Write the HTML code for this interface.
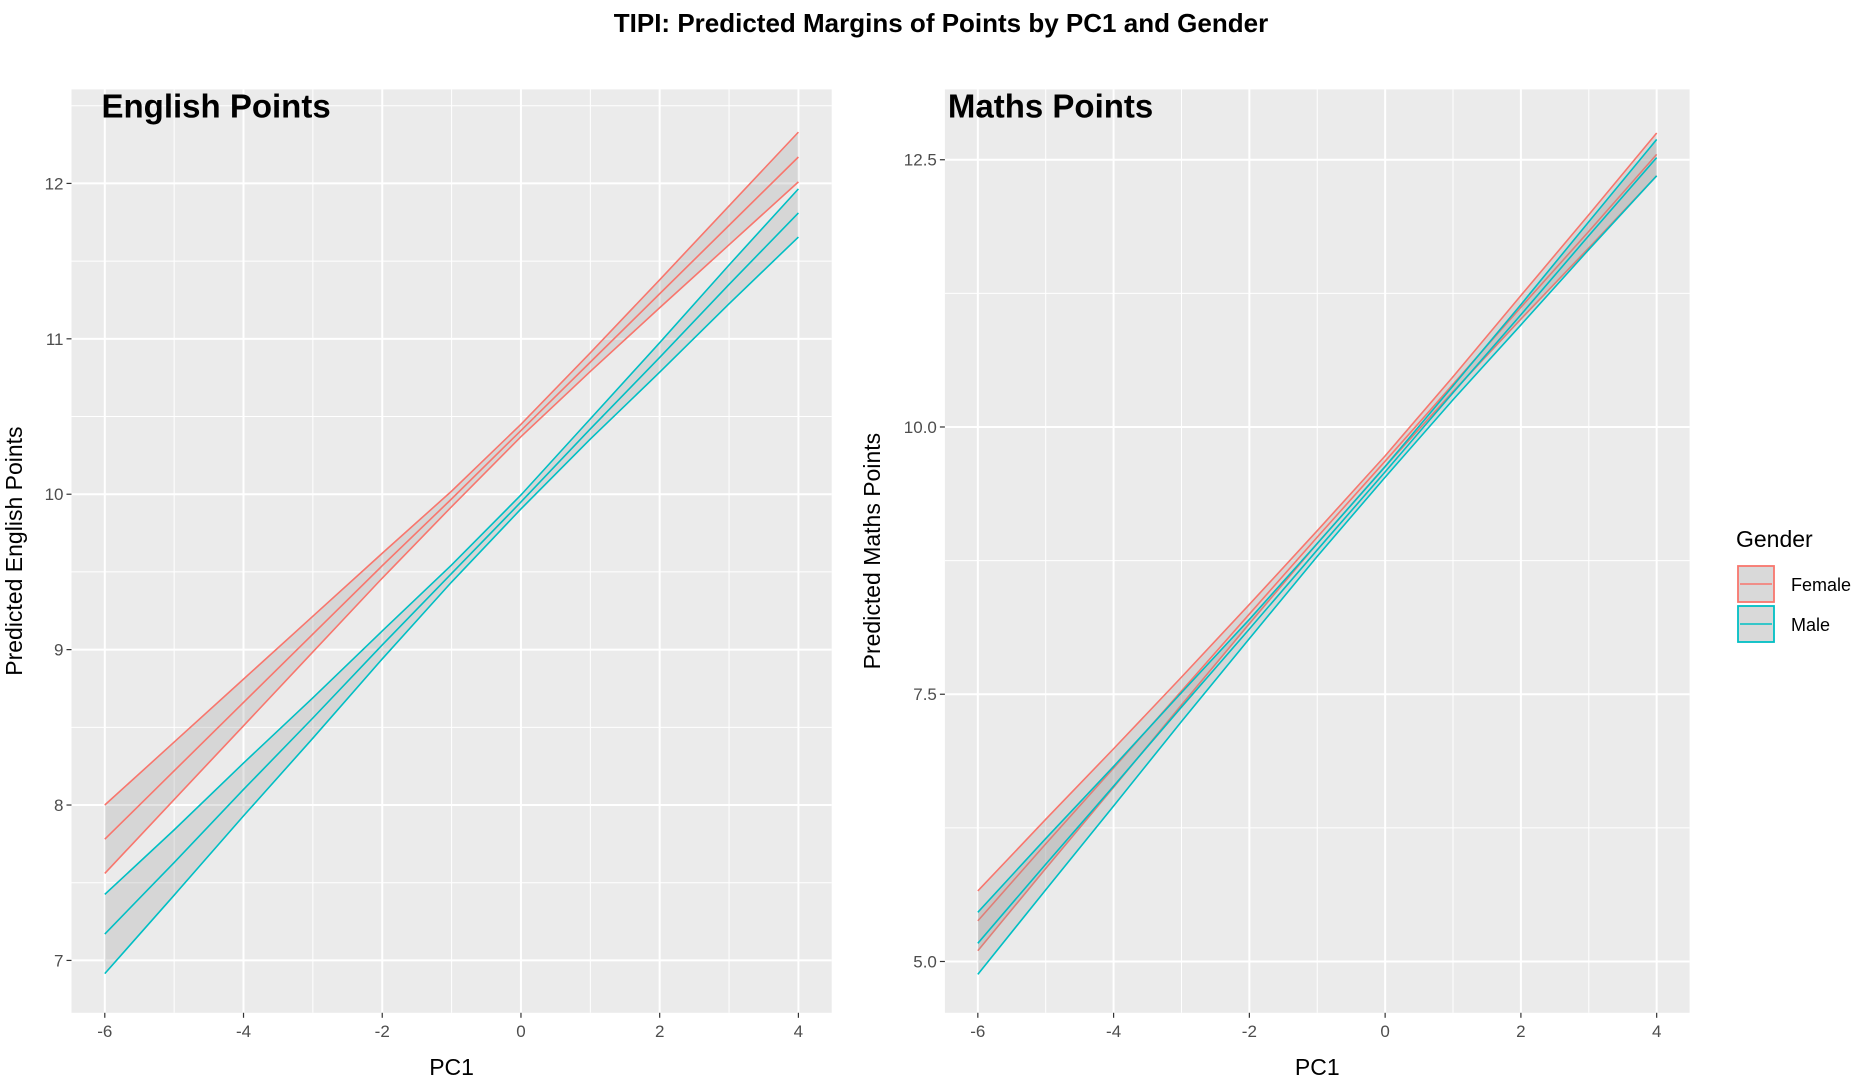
<!DOCTYPE html>
<html><head><meta charset="utf-8"><style>
body{margin:0;background:#fff;}
svg{display:block;font-family:"Liberation Sans",Arial,sans-serif;}
</style></head><body>
<svg id="c" width="1867" height="1085">
<text x="941" y="32" text-anchor="middle" font-size="26" font-weight="bold">TIPI: Predicted Margins of Points by PC1 and Gender</text>
</svg>
<script>
const xVals=[-6,-5,-4,-3,-2,-1,0,1,2,3,4];
const engFemaleUpper=[8.00,8.405,8.81,9.215,9.62,10.02,10.45,10.91,11.38,11.855,12.33];
const engFemaleMean=[7.78,8.22,8.66,9.10,9.54,9.97,10.41,10.85,11.29,11.73,12.17];
const engFemaleLower=[7.56,8.035,8.51,8.985,9.46,9.92,10.37,10.79,11.20,11.605,12.01];
const engMaleUpper=[7.425,7.84,8.27,8.69,9.12,9.545,9.995,10.485,10.975,11.475,11.965];
const engMaleMean=[7.17,7.63,8.10,8.56,9.03,9.49,9.95,10.42,10.88,11.35,11.81];
const engMaleLower=[6.915,7.42,7.93,8.43,8.94,9.435,9.905,10.355,10.785,11.225,11.655];
const mathFemaleUpper=[5.66,6.33,6.99,7.66,8.34,9.03,9.73,10.47,11.23,11.985,12.75];
const mathFemaleMean=[5.38,6.10,6.81,7.53,8.25,8.97,9.68,10.40,11.12,11.83,12.55];
const mathFemaleLower=[5.10,5.87,6.63,7.40,8.16,8.91,9.63,10.33,11.01,11.675,12.35];
const mathMaleUpper=[5.46,6.15,6.825,7.515,8.20,8.91,9.63,10.385,11.145,11.92,12.69];
const mathMaleMean=[5.17,5.91,6.64,7.38,8.11,8.85,9.58,10.32,11.05,11.79,12.52];
const mathMaleLower=[4.88,5.67,6.455,7.245,8.02,8.79,9.53,10.255,10.955,11.66,12.35];
const xTicks=[-6,-4,-2,0,2,4];
const engYTicks=[7,8,9,10,11,12];
const mathYTicks=[5.0,7.5,10.0,12.5];
const NS="http://www.w3.org/2000/svg";
const svg=document.getElementById('c');
function el(t,a,p){const e=document.createElementNS(NS,t);for(const k in a)e.setAttribute(k,a[k]);(p||svg).appendChild(e);return e;}
function panel(o){
  const g=el('g',{});
  
  
  const X=v=>o.x0+(v-o.xmin)/(o.xmax-o.xmin)*(o.x1-o.x0);
  const Y=v=>o.y1-(v-o.ymin)/(o.ymax-o.ymin)*(o.y1-o.y0);
  el('rect',{x:o.x0,y:o.y0,width:o.x1-o.x0,height:o.y1-o.y0,fill:'#ebebeb'},g);
  for(let i=0;i<xTicks.length-1;i++){const v=(xTicks[i]+xTicks[i+1])/2;el('line',{x1:X(v),x2:X(v),y1:o.y0,y2:o.y1,stroke:'#fff','stroke-width':1},g);}
  for(let i=0;i<o.yt.length-1;i++){const v=(o.yt[i]+o.yt[i+1])/2;el('line',{x1:o.x0,x2:o.x1,y1:Y(v),y2:Y(v),stroke:'#fff','stroke-width':1},g);}
  const vt=o.yt[o.yt.length-1]+(o.yt[1]-o.yt[0])/2; if(vt<o.ymax) el('line',{x1:o.x0,x2:o.x1,y1:Y(vt),y2:Y(vt),stroke:'#fff','stroke-width':1},g);
  const vb=o.yt[0]-(o.yt[1]-o.yt[0])/2; if(vb>o.ymin) el('line',{x1:o.x0,x2:o.x1,y1:Y(vb),y2:Y(vb),stroke:'#fff','stroke-width':1},g);
  xTicks.forEach(v=>{
    el('line',{x1:X(v),x2:X(v),y1:o.y0,y2:o.y1,stroke:'#fff','stroke-width':2},g);
    el('line',{x1:X(v),x2:X(v),y1:o.y1,y2:o.y1+5,stroke:'#333','stroke-width':1.2},g);
    const t=el('text',{x:X(v),y:o.y1+24,'text-anchor':'middle','font-size':17,fill:'#4d4d4d'},g);t.textContent=v;
    
    
  });
  o.yt.forEach(v=>{
    el('line',{x1:o.x0,x2:o.x1,y1:Y(v),y2:Y(v),stroke:'#fff','stroke-width':2},g);
    el('line',{x1:o.x0-5,x2:o.x0,y1:Y(v),y2:Y(v),stroke:'#333','stroke-width':1.2},g);
    const t=el('text',{x:o.x0-8,y:Y(v)+6,'text-anchor':'end','font-size':17,fill:'#4d4d4d'},g);t.textContent=o.fmt(v);
    
    
  });
  o.series.forEach(s=>{
    const pts=xVals.map((x,i)=>X(x)+','+Y(s.up[i]));
    for(let i=xVals.length-1;i>=0;i--)pts.push(X(xVals[i])+','+Y(s.lo[i]));
    const r=el('polygon',{points:pts.join(' '),fill:'#999','fill-opacity':0.25},g);
    
    
    [s.up,s.m,s.lo].forEach((arr,k)=>{
      const l=el('polyline',{points:xVals.map((x,i)=>X(x)+','+Y(arr[i])).join(' '),fill:'none',stroke:s.c,'stroke-width':1.6},g);
      
      
    });
  });
  const tt=el('text',{x:o.x0+o.toff,y:o.y0+28,'font-size':33,'font-weight':'bold'},g);tt.textContent=o.title;
  
  
  const xl=el('text',{x:(o.x0+o.x1)/2,y:1075,'text-anchor':'middle','font-size':23},g);xl.textContent='PC1';
  
  
  const cy=(o.y0+o.y1)/2;
  const yl=el('text',{x:o.ylx,y:cy,'text-anchor':'middle','font-size':23,transform:`rotate(-90 ${o.ylx} ${cy})`},g);yl.textContent=o.ylab;
  
  
}
const F='#F8766D',M='#00BFC4';
panel({name:'english-panel',title:'English Points',toff:30,x0:71.5,x1:831.7,y0:89.4,y1:1012.8,xmin:-6.48,xmax:4.48,ymin:6.663,ymax:12.605,yt:engYTicks,fmt:v=>String(v),ylab:'Predicted English Points',ylx:22,
 series:[{n:'english-female',c:F,up:engFemaleUpper,m:engFemaleMean,lo:engFemaleLower},{n:'english-male',c:M,up:engMaleUpper,m:engMaleMean,lo:engMaleLower}]});
panel({name:'maths-panel',title:'Maths Points',toff:3,x0:944.9,x1:1689.6,y0:89.4,y1:1012.8,xmin:-6.485,xmax:4.485,ymin:4.52,ymax:13.158,yt:mathYTicks,fmt:v=>v.toFixed(1),ylab:'Predicted Maths Points',ylx:880,
 series:[{n:'maths-female',c:F,up:mathFemaleUpper,m:mathFemaleMean,lo:mathFemaleLower},{n:'maths-male',c:M,up:mathMaleUpper,m:mathMaleMean,lo:mathMaleLower}]});
const lg=el('g',{});


const lt=el('text',{x:1736,y:547,'font-size':23},lg);lt.textContent='Gender';
[['Female',F,565],['Male',M,605]].forEach(([n,c,y])=>{
  const e=el('g',{},lg);
  
  
  el('rect',{x:1738,y:y+1,width:36,height:36,fill:'#d9d9d9',stroke:c,'stroke-width':1.8},e);
  el('line',{x1:1740,x2:1772,y1:y+19,y2:y+19,stroke:c,'stroke-width':1.6},e);
  const t=el('text',{x:1791,y:y+26,'font-size':18},e);t.textContent=n;
});
</script>
</body></html>
